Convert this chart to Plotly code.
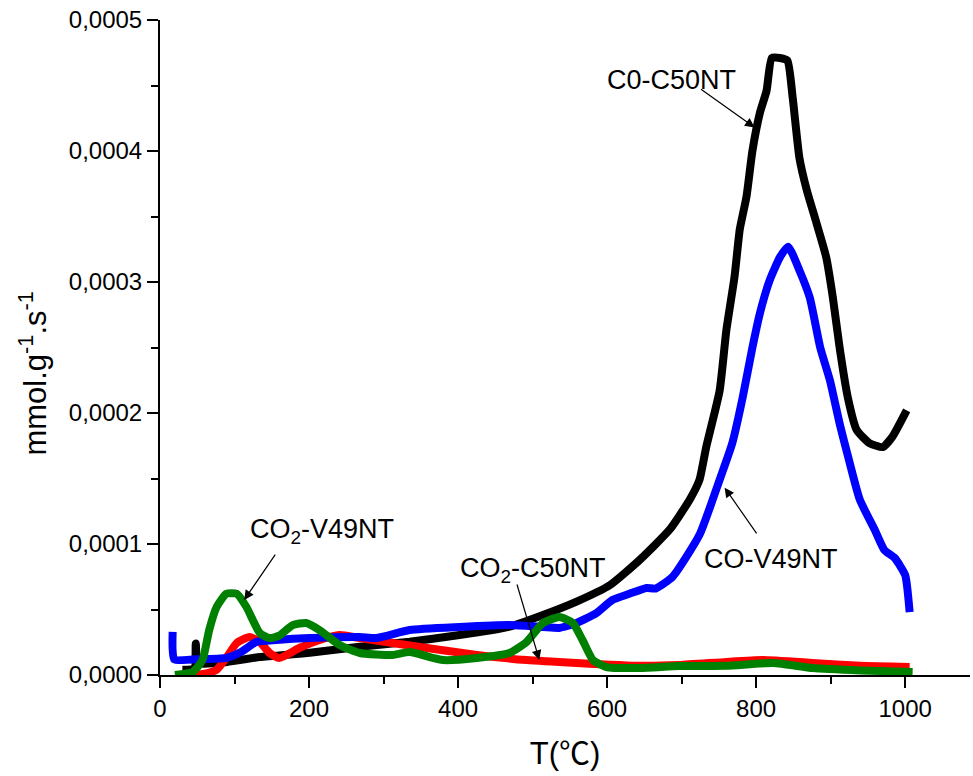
import plotly.graph_objects as go

# ---- data (T in °C, values in mmol.g-1.s-1) ----
t_c0_c50 = [30, 46, 48, 51, 90, 134, 201, 268, 335, 402, 469, 514, 559, 604, 644, 684, 711, 724,
            733, 751, 760, 771, 778, 787, 795, 805, 814, 821, 832, 842, 849, 858, 868, 881, 894,
            903, 912, 923, 935, 952, 970, 983, 1002]
v_c0_c50 = [0.04, 0.05, 0.24, 0.09, 0.10, 0.137, 0.17, 0.216, 0.254, 0.305, 0.369, 0.458, 0.56,
            0.687, 0.88, 1.11, 1.34, 1.49, 1.74, 2.17, 2.63, 3.04, 3.40, 3.65, 4.00, 4.29, 4.46,
            4.71, 4.71, 4.69, 4.41, 3.95, 3.70, 3.45, 3.19, 2.88, 2.50, 2.12, 1.87, 1.77, 1.74,
            1.82, 2.02]

t_co2_c50 = [45, 60, 76, 90, 103, 120, 134, 147, 160, 187, 214, 241, 268, 312, 358, 425, 492,
             559, 644, 697, 760, 809, 876, 940, 1006]
v_co2_c50 = [0.0, 0.01, 0.04, 0.14, 0.244, 0.29, 0.252, 0.168, 0.13, 0.206, 0.267, 0.305, 0.282,
             0.244, 0.206, 0.153, 0.114, 0.092, 0.07, 0.076, 0.10, 0.114, 0.092, 0.07, 0.061]

t_co_v49 = [17, 19, 50, 89, 110, 129, 156, 201, 268, 290, 335, 402, 469, 514, 536, 559, 585, 607,
            630, 653, 665, 688, 724, 751, 768, 782, 795, 805, 818, 832, 843, 858, 872, 886, 899,
            912, 921, 939, 959, 972, 986, 1000, 1006]
v_co_v49 = [0.33, 0.12, 0.12, 0.13, 0.18, 0.252, 0.267, 0.282, 0.29, 0.282, 0.343, 0.366, 0.381,
            0.366, 0.359, 0.397, 0.47, 0.572, 0.62, 0.664, 0.66, 0.75, 1.07, 1.49, 1.77, 2.12,
            2.50, 2.76, 3.01, 3.19, 3.27, 3.09, 2.88, 2.50, 2.25, 1.92, 1.72, 1.34, 1.11, 0.954,
            0.893, 0.763, 0.48]

t_co2_v49 = [20, 44, 57, 66, 76, 89, 103, 116, 134, 147, 160, 178, 196, 214, 241, 268, 312, 335,
             380, 425, 469, 492, 514, 536, 554, 567, 581, 599, 644, 697, 760, 823, 876, 940, 1010]
v_co2_v49 = [0.0, 0.023, 0.114, 0.343, 0.519, 0.62, 0.62, 0.519, 0.32, 0.282, 0.30, 0.381, 0.397,
             0.343, 0.229, 0.168, 0.153, 0.175, 0.114, 0.13, 0.168, 0.252, 0.397, 0.443, 0.397,
             0.267, 0.114, 0.061, 0.053, 0.069, 0.07, 0.092, 0.053, 0.035, 0.023]

SCALE = 1e-4
y_ticks = [0, 0.0001, 0.0002, 0.0003, 0.0004, 0.0005]
x_ticks = [0, 200, 400, 600, 800, 1000]

series = [
    ("C0-C50NT", t_c0_c50, v_c0_c50, "#000000"),
    ("CO2-C50NT", t_co2_c50, v_co2_c50, "#ff0000"),
    ("CO-V49NT", t_co_v49, v_co_v49, "#0000ff"),
    ("CO2-V49NT", t_co2_v49, v_co2_v49, "#008000"),
]

FONT = "Liberation Sans, Arial, Noto Sans CJK SC, sans-serif"

fig = go.Figure()
for name, t, v, col in series:
    fig.add_trace(go.Scatter(
        x=t, y=[a * SCALE for a in v], mode="lines", name=name,
        line=dict(color=col, width=8, shape="spline", smoothing=0.5),
    ))

# text labels
labels = [
    ("C0-C50NT", 686.6, 0.000454),
    ("CO<sub>2</sub>-V49NT", 216.8, 0.000110),
    ("CO<sub>2</sub>-C50NT", 500.0, 0.0000802),
    ("CO-V49NT", 819.5, 0.0000889),
]
for txt, x, y in labels:
    fig.add_annotation(x=x, y=y, text=txt, showarrow=False,
                       font=dict(family=FONT, size=27, color="black"),
                       xanchor="center", yanchor="middle")

# arrows: (tail_x, tail_y, head_x, head_y)
arrows = [
    (724, 0.000448, 798, 0.000418),
    (156, 0.0000931, 113, 0.0000573),
    (478.5, 0.0000702, 509, 0.0000115),
    (802, 0.000107, 757.7, 0.000143),
]
for tx, ty, hx, hy in arrows:
    fig.add_annotation(x=hx, y=hy, ax=tx, ay=ty, axref="x", ayref="y", xref="x", yref="y",
                       text="", showarrow=True, arrowhead=2, arrowsize=1.6, arrowwidth=1.2,
                       arrowcolor="black", standoff=0, startstandoff=0)

# y-axis title (placed as rotated annotation to match its vertical position)
fig.add_annotation(x=-0.157, y=0.46, xref="paper", yref="paper",
                   text="mmol.g<sup>-1</sup>.s<sup>-1</sup>", textangle=-90, showarrow=False,
                   font=dict(family=FONT, size=31, color="black"),
                   xanchor="center", yanchor="middle")

fig.update_layout(
    width=973, height=776,
    margin=dict(l=160, r=3, t=20, b=101),
    paper_bgcolor="white", plot_bgcolor="white",
    showlegend=False,
    separators=",.",
    font=dict(family=FONT, color="black"),
)
fig.update_xaxes(
    range=[0, 1087], tickvals=x_ticks, ticktext=[str(v) for v in x_ticks],
    showgrid=False, zeroline=False,
    showline=True, linecolor="black", linewidth=2,
    ticks="outside", ticklen=11, tickwidth=2, tickcolor="black",
    minor=dict(dtick=100, tick0=0, ticks="outside", ticklen=7, tickwidth=2, tickcolor="black"),
    tickfont=dict(family=FONT, size=24, color="black"),
    title=dict(text="T(℃)", font=dict(family=FONT, size=31, color="black"), standoff=22),
)
fig.update_yaxes(
    range=[0, 0.0005], tickvals=y_ticks, tickformat=".4f",
    showgrid=False, zeroline=False,
    showline=True, linecolor="black", linewidth=2,
    ticks="outside", ticklen=11, tickwidth=2, tickcolor="black",
    minor=dict(dtick=0.00005, tick0=0, ticks="outside", ticklen=7, tickwidth=2, tickcolor="black"),
    tickfont=dict(family=FONT, size=24, color="black"),
)

fig.write_html("out.html")
